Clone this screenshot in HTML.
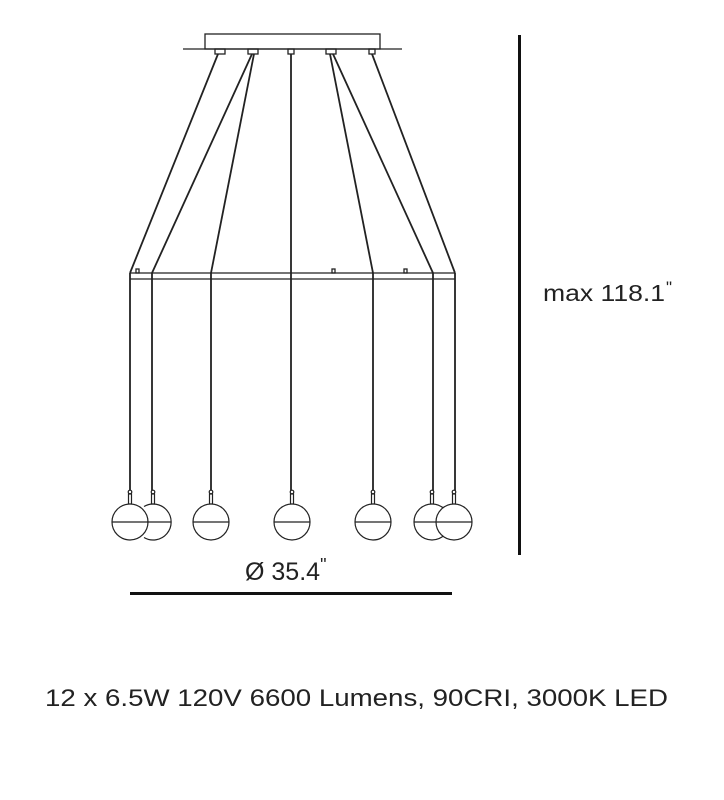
<!DOCTYPE html>
<html><head><style>
body{margin:0;background:#fff;}
svg{display:block}
text{font-family:"Liberation Sans",sans-serif;fill:#222}
</style></head><body>
<svg width="724" height="800" viewBox="0 0 724 800">
<g stroke="#222" fill="none" stroke-width="1.3">
<rect x="205" y="34" width="175" height="15"/>
<line x1="183" y1="49" x2="402" y2="49"/>
<rect x="215" y="49" width="10" height="5"/>
<rect x="248" y="49" width="10" height="5"/>
<rect x="288" y="49" width="6" height="5"/>
<rect x="326" y="49" width="10" height="5"/>
<rect x="369" y="49" width="6" height="5"/>
<g stroke-width="1.8">
<line x1="218" y1="54" x2="130" y2="273"/>
<line x1="252" y1="54" x2="152" y2="273"/>
<line x1="254" y1="54" x2="211" y2="273"/>
<line x1="291" y1="54" x2="291" y2="273"/>
<line x1="330" y1="54" x2="373" y2="273"/>
<line x1="333" y1="54" x2="433" y2="273"/>
<line x1="372" y1="54" x2="455" y2="273"/>
</g>
<line x1="130" y1="273" x2="455" y2="273"/>
<line x1="130" y1="279" x2="455" y2="279"/>
<rect x="136" y="269" width="3" height="4"/>
<rect x="332" y="269" width="3" height="4"/>
<rect x="404" y="269" width="3" height="4"/>
<g stroke-width="1.8">
<line x1="130" y1="273" x2="130" y2="492"/>
<line x1="152" y1="273" x2="152" y2="492"/>
<line x1="211" y1="273" x2="211" y2="492"/>
<line x1="291" y1="273" x2="291" y2="492"/>
<line x1="373" y1="273" x2="373" y2="492"/>
<line x1="433" y1="273" x2="433" y2="492"/>
<line x1="455" y1="273" x2="455" y2="492"/>
</g>
</g>
<g stroke="#222" fill="#fff" stroke-width="1.2">
<g transform="translate(130,0)"><circle cx="0" cy="492" r="1.8"/><rect x="-1.5" y="494" width="3" height="10"/><circle cx="0" cy="522" r="18"/><line x1="-18" y1="522" x2="18" y2="522"/></g>
<g transform="translate(153,0)"><circle cx="0" cy="492" r="1.8"/><rect x="-1.5" y="494" width="3" height="10"/><path d="M-9 506.5 A18 18 0 1 1 -9 537.5" fill="none"/><line x1="-6" y1="522" x2="18" y2="522"/></g>
<g transform="translate(211,0)"><circle cx="0" cy="492" r="1.8"/><rect x="-1.5" y="494" width="3" height="10"/><circle cx="0" cy="522" r="18"/><line x1="-18" y1="522" x2="18" y2="522"/></g>
<g transform="translate(292,0)"><circle cx="0" cy="492" r="1.8"/><rect x="-1.5" y="494" width="3" height="10"/><circle cx="0" cy="522" r="18"/><line x1="-18" y1="522" x2="18" y2="522"/></g>
<g transform="translate(373,0)"><circle cx="0" cy="492" r="1.8"/><rect x="-1.5" y="494" width="3" height="10"/><circle cx="0" cy="522" r="18"/><line x1="-18" y1="522" x2="18" y2="522"/></g>
<g transform="translate(432,0)"><circle cx="0" cy="492" r="1.8"/><rect x="-1.5" y="494" width="3" height="10"/><circle cx="0" cy="522" r="18"/><line x1="-18" y1="522" x2="18" y2="522"/></g>
<g transform="translate(454,0)"><circle cx="0" cy="492" r="1.8"/><rect x="-1.5" y="494" width="3" height="10"/><circle cx="0" cy="522" r="18"/><line x1="-18" y1="522" x2="18" y2="522"/></g>
</g>
<rect x="130" y="592" width="322" height="3" fill="#111"/>
<rect x="518" y="35" width="3" height="520" fill="#111"/>
<text x="245" y="580" font-size="25">Ø 35.4<tspan font-size="18" dy="-9">"</tspan></text>
<text x="543" y="301" font-size="23" textLength="122" lengthAdjust="spacingAndGlyphs">max 118.1</text>
<text x="666" y="293" font-size="17">"</text>
<text x="45" y="706" font-size="24" textLength="623" lengthAdjust="spacingAndGlyphs">12 x 6.5W 120V 6600 Lumens, 90CRI, 3000K LED</text>
</svg>
</body></html>
